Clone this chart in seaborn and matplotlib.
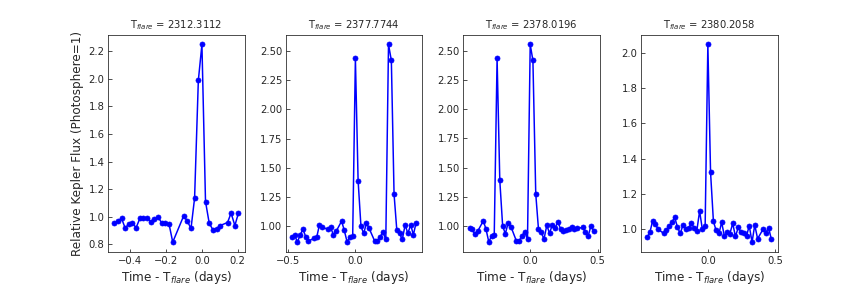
"""
Four Kepler flare light-curve cutouts, flux relative to the photosphere,
centred on each flare peak.
"""

import matplotlib
matplotlib.use("Agg")
import matplotlib.pyplot as plt
import seaborn as sns

# flare peak times (BKJD)
FLARE_TIMES = ["2312.3112", "2377.7744", "2378.0196", "2380.2058"]

# panel 1
t1 = [-0.490, -0.470, -0.449, -0.429, -0.409, -0.388, -0.368, -0.347,
      -0.327, -0.306, -0.286, -0.266, -0.245, -0.225, -0.204, -0.184,
      -0.163, -0.102, -0.082, -0.061, -0.041, -0.020, 0.000, 0.020,
      0.041, 0.061, 0.082, 0.102, 0.143, 0.163, 0.184, 0.204]
f1 = [0.952, 0.971, 0.988, 0.920, 0.947, 0.959, 0.920, 0.988,
      0.988, 0.995, 0.964, 0.981, 0.998, 0.957, 0.952, 0.949,
      0.817, 1.007, 0.969, 0.916, 1.135, 1.988, 2.248, 1.111,
      0.952, 0.908, 0.913, 0.937, 0.959, 1.027, 0.937, 1.027]

# panel 2
t2 = [-0.470, -0.449, -0.429, -0.409, -0.388, -0.368, -0.347, -0.306,
      -0.286, -0.266, -0.245, -0.204, -0.184, -0.163, -0.143, -0.102,
      -0.082, -0.061, -0.041, -0.020, 0.000, 0.020, 0.041, 0.061,
      0.082, 0.102, 0.143, 0.163, 0.184, 0.204, 0.225, 0.245,
      0.266, 0.286, 0.306, 0.327, 0.347, 0.368, 0.388, 0.409,
      0.429, 0.449]
f2 = [0.911, 0.923, 0.863, 0.923, 0.974, 0.911, 0.871, 0.897,
      0.906, 1.011, 0.989, 0.974, 0.991, 0.926, 0.954, 1.043,
      0.963, 0.863, 0.911, 0.917, 2.437, 1.391, 1.000, 0.937,
      1.026, 0.980, 0.871, 0.871, 0.911, 0.949, 0.886, 2.557,
      2.420, 1.274, 0.971, 0.937, 0.886, 1.011, 0.937, 1.011,
      0.926, 1.029]

# panel 3
t3 = [-0.449, -0.429, -0.409, -0.388, -0.347, -0.327, -0.306, -0.286,
      -0.266, -0.245, -0.225, -0.204, -0.184, -0.163, -0.143, -0.102,
      -0.082, -0.061, -0.041, -0.020, 0.000, 0.020, 0.041, 0.061,
      0.082, 0.102, 0.123, 0.143, 0.163, 0.184, 0.204, 0.225,
      0.245, 0.266, 0.286, 0.306, 0.327, 0.347, 0.388, 0.409,
      0.429, 0.449, 0.470]
f3 = [0.980, 0.971, 0.926, 0.954, 1.043, 0.971, 0.860, 0.914,
      0.923, 2.437, 1.391, 1.000, 0.931, 1.026, 0.994, 0.869,
      0.869, 0.914, 0.949, 0.886, 2.557, 2.420, 1.274, 0.974,
      0.943, 0.886, 1.006, 0.934, 1.009, 0.980, 1.034, 0.974,
      0.954, 0.963, 0.971, 0.994, 0.971, 0.977, 0.986, 0.949,
      0.911, 1.000, 0.954]

# panel 4
t4 = [-0.449, -0.429, -0.409, -0.388, -0.368, -0.327, -0.306, -0.286,
      -0.266, -0.245, -0.225, -0.204, -0.184, -0.163, -0.143, -0.123,
      -0.102, -0.082, -0.061, -0.041, -0.020, 0.000, 0.020, 0.041,
      0.061, 0.082, 0.102, 0.123, 0.143, 0.163, 0.184, 0.204,
      0.225, 0.245, 0.266, 0.286, 0.306, 0.327, 0.347, 0.368,
      0.409, 0.429, 0.449, 0.470]
f4 = [0.953, 0.981, 1.045, 1.026, 1.000, 0.975, 0.994, 1.015,
      1.040, 1.066, 1.011, 0.975, 1.023, 1.000, 1.004, 1.032,
      1.008, 0.989, 1.102, 1.000, 1.019, 2.047, 1.321, 1.045,
      0.992, 0.975, 1.038, 0.958, 0.981, 0.974, 1.032, 0.958,
      1.009, 0.981, 0.979, 0.960, 1.019, 0.926, 1.023, 0.945,
      1.000, 0.979, 1.008, 0.942]

PANELS = [(t1, f1), (t2, f2), (t3, f3), (t4, f4)]


def plot_flares():
    sns.set_style("ticks", {"xtick.direction": "in", "ytick.direction": "in"})
    plt.rcParams["font.family"] = ["DejaVu Sans"]

    fig, axes = plt.subplots(1, 4, figsize=(12, 4), dpi=72)
    plt.subplots_adjust(wspace=0.3, bottom=0.125, top=0.88)

    for ax, (t, f), tpk in zip(axes, PANELS, FLARE_TIMES):
        sns.lineplot(x=t, y=f, ax=ax, color="blue", marker="o",
                     markersize=5, markeredgecolor="blue", linewidth=1.5,
                     estimator=None, sort=False)
        ax.set_title("T$_{flare}$ = " + tpk, fontsize=10)
        ax.set_xlabel("Time - T$_{flare}$ (days)", fontsize=12)
        ax.tick_params(labelsize=10)

    axes[0].set_ylabel("Relative Kepler Flux (Photosphere=1)", fontsize=12)

    fig.savefig("out.png", dpi=72)


if __name__ == "__main__":
    plot_flares()
